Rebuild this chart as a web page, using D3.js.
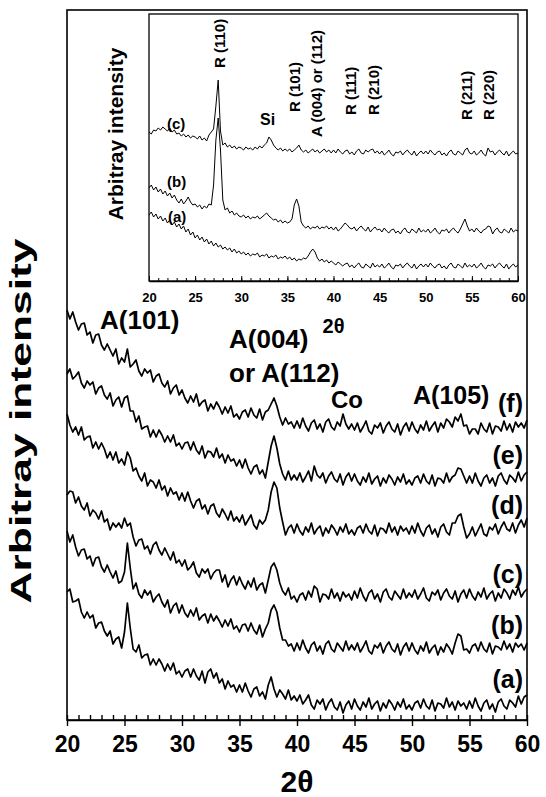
<!DOCTYPE html>
<html>
<head>
<meta charset="utf-8">
<script src="https://cdn.jsdelivr.net/npm/d3@7"></script>
<style>
body { margin: 0; background: #fff; }
text { font-family: "Liberation Sans", Arial, sans-serif; font-weight: bold; fill: #000; }
</style>
</head>
<body>
<div class="xrd"></div>
<script>
// 2theta grid, 0.25 deg steps from 20 to 60
const twoTheta = d3.range(0, 161).map(i => 20 + i * 0.25);
const majorTicks = [20, 25, 30, 35, 40, 45, 50, 55, 60];
const minorTicks = d3.range(20, 61, 1);

// main plot, stacked patterns (offset already included), arbitrary units
const mainA = [128,131,118,119,121,108,102,108,102,105,92,97,98,89,84,89,76,81,83,72,
  88,117,92,71,68,75,62,65,66,55,61,55,61,56,49,56,50,57,46,49,
  43,49,51,43,51,44,40,49,37,48,51,42,47,37,41,31,39,33,35,28,
  35,28,37,29,23,31,33,24,28,21,35,43,31,23,30,26,21,30,20,24,
  19,25,16,20,25,15,11,20,16,21,10,17,21,13,10,18,7,15,19,11,
  21,14,10,18,13,22,11,16,19,9,17,12,20,16,10,18,13,21,11,15,
  10,17,19,12,21,14,11,20,9,17,16,12,22,13,18,10,19,14,17,11,
  19,12,22,14,9,17,20,11,16,8,18,21,14,11,20,17,13,24,16,23,25];
const mainB = [189,178,185,173,164,170,171,161,164,154,162,163,153,148,155,148,142,149,137,139,
  148,177,152,131,137,126,122,130,125,129,118,123,126,118,113,120,107,114,117,107,
  115,107,103,110,104,112,100,104,106,97,106,99,104,99,93,100,94,101,91,94,
  88,95,96,89,97,90,86,95,83,91,97,110,115,108,92,80,80,74,76,69,
  77,70,80,72,67,75,78,69,74,66,76,79,71,68,77,73,69,79,70,75,
  70,77,68,73,79,69,66,75,72,77,67,74,78,71,68,76,65,73,77,69,
  77,70,66,74,69,78,67,72,75,65,73,68,76,72,66,77,86,84,70,71,
  67,74,76,69,78,71,68,77,66,74,73,70,79,71,76,68,77,73,76,70,77];
const mainC = [225,229,228,217,223,214,210,217,204,210,207,201,209,198,201,190,197,193,197,192,
  202,194,197,183,174,180,181,171,174,166,175,178,170,165,172,166,160,168,157,160,
  154,160,150,153,158,147,143,151,147,151,141,147,150,150,138,145,133,140,144,135,
  143,136,131,139,133,142,130,135,137,127,140,153,157,150,137,129,125,132,121,124,
  118,125,127,120,129,123,134,131,118,126,125,121,131,122,127,119,128,123,126,120,
  129,122,132,124,119,127,130,121,126,118,128,131,123,120,129,125,121,131,122,127,
  123,130,121,126,132,122,119,128,125,130,120,127,131,124,121,129,118,126,130,122,
  131,124,120,128,123,132,121,126,129,119,127,122,131,127,121,130,125,133,123,128,131];
const mainD = [306,295,288,293,285,293,280,283,284,272,278,271,277,271,262,268,260,268,257,261,
  255,268,262,249,252,244,239,247,234,240,238,232,240,230,234,224,232,226,228,220,
  227,219,228,219,212,219,221,211,215,206,214,216,207,203,211,206,200,209,199,203,
  198,205,195,200,205,195,191,200,196,200,210,228,238,232,212,198,185,192,195,187,
  196,189,185,193,188,197,186,191,194,184,192,187,195,191,185,193,188,196,186,190,
  185,192,194,187,196,189,186,195,184,192,191,187,197,188,193,185,194,189,192,186,
  194,187,197,189,184,192,195,186,191,183,193,196,188,185,197,197,204,206,193,182,
  186,193,184,190,196,186,184,193,190,196,186,193,198,191,189,197,187,195,200,193,202];
const mainE = [346,351,341,344,348,337,332,339,335,338,326,332,334,325,321,327,314,320,323,313,
  322,324,309,309,298,304,291,293,294,283,290,283,290,285,278,284,278,285,274,277,
  271,277,278,270,278,270,266,274,262,269,268,263,272,262,266,257,265,259,261,254,
  260,252,261,252,246,253,255,246,250,242,258,274,284,272,256,246,240,249,240,245,
  240,247,238,243,249,239,254,245,242,247,237,244,248,241,238,246,235,243,247,239,
  246,239,235,243,238,247,236,241,244,234,242,237,245,241,235,243,238,246,236,240,
  235,242,244,237,246,239,236,245,234,242,241,237,247,238,243,245,252,251,244,237,
  244,237,247,239,234,242,245,237,242,234,244,247,240,236,245,242,238,248,239,245,248];
const mainF = [410,401,408,398,390,396,397,385,388,377,385,386,375,370,376,370,364,371,356,362,
  358,371,353,356,360,349,344,351,347,350,338,344,346,337,333,339,326,332,335,325,
  330,322,317,324,318,326,314,318,320,309,316,311,318,313,306,313,307,314,303,306,
  301,308,310,303,312,305,302,311,300,308,310,316,322,314,303,295,302,296,298,292,
  299,292,302,294,289,297,300,291,296,288,298,301,293,290,298,294,306,296,291,296,
  290,297,288,293,299,289,286,295,292,297,287,294,298,291,288,296,285,293,297,289,
  298,291,287,295,290,299,289,294,298,288,297,292,301,298,293,303,299,306,294,295,
  286,291,291,286,297,291,288,297,286,294,293,289,299,290,296,288,298,293,297,292,300];

// inset patterns
const insetA = [66,69,64,67,62,65,60,63,58,61,56,59,54,57,52,55,49,52,46,49,
  43,46,41,44,39,42,37,40,35,38,34,36,32,34,31,33,29,32,28,30,
  27,29,26,28,25,27,26,28,24,26,25,27,23,25,24,26,22,24,23,25,
  22,24,21,23,20,22,21,23,22,25,29,32,29,23,20,22,19,21,18,20,
  18,16,19,17,15,17,18,14,16,13,16,18,14,13,17,15,13,18,14,16,
  14,17,13,15,18,14,12,16,15,17,13,16,18,15,13,17,12,15,17,14,
  17,14,18,15,13,16,17,13,15,12,16,18,14,13,17,15,13,18,14,16,
  14,17,13,15,18,14,12,16,15,17,13,16,18,15,13,17,12,15,17,14,16];
const insetB = [93,96,91,94,89,92,87,90,85,88,83,86,81,78,82,77,80,84,79,76,
  77,74,76,72,75,73,77,76,96,141,163,131,81,71,73,68,70,66,68,65,
  64,66,63,65,62,64,63,65,62,64,66,68,65,63,61,62,59,61,58,60,
  58,59,62,76,82,75,59,55,53,55,52,54,53,55,52,54,53,55,52,54,
  51,54,50,52,55,58,56,53,52,54,50,53,55,52,50,54,49,52,54,51,
  52,49,53,50,48,51,52,48,50,47,51,53,49,48,52,50,48,53,49,51,
  49,52,48,50,53,49,47,51,50,52,48,51,53,50,48,52,57,62,55,50,
  52,49,53,50,48,51,52,55,54,47,51,53,49,48,52,50,48,53,49,51,50];
const insetC = [149,147,151,150,153,151,154,152,150,153,149,151,147,148,145,147,144,146,143,145,
  144,142,145,141,143,140,146,149,152,175,201,150,136,138,134,136,133,135,132,134,
  133,131,134,132,133,131,134,132,135,133,136,138,144,141,136,133,131,133,130,132,
  130,132,129,131,133,136,131,129,131,128,130,132,129,131,128,130,132,129,131,128,
  131,128,132,129,127,130,131,127,129,126,130,132,128,127,131,129,131,132,128,130,
  127,130,126,128,131,127,125,129,128,130,126,129,131,128,126,130,125,128,130,127,
  130,127,131,128,126,129,130,126,128,125,129,131,127,126,130,128,126,131,133,128,
  127,130,126,128,131,127,125,133,129,130,126,129,131,128,126,130,125,128,130,127,128];

const mainSeries = [mainA, mainB, mainC, mainD, mainE, mainF];
const mainNames = ["(a)", "(b)", "(c)", "(d)", "(e)", "(f)"];
const insetSeries = [insetA, insetB, insetC];
const insetNames = ["(a)", "(b)", "(c)"];
const insetPeaks = ["R (110)", "R (101)", "A (004) or (112)", "R (111)", "R (210)", "R (211)", "R (220)"];

const width = 546, height = 797;

const svg = d3.select('.xrd')
    .append('svg')
    .attr('width', width)
    .attr('height', height)
    .attr('viewBox', [0, 0, width, height]);

// main scales
const x = d3.scaleLinear().domain([20, 60]).range([67, 527]);
const y = d3.scaleLinear().domain([0, 710]).range([720, 10]);

// inset scales
const xi = d3.scaleLinear().domain([20, 60]).range([149, 518]);
const yi = d3.scaleLinear().domain([0, 267]).range([281, 14]);

// frame
svg.append('rect')
    .attr('x', x(20)).attr('y', y(710))
    .attr('width', x(60) - x(20)).attr('height', y(0) - y(710))
    .attr('fill', 'none').attr('stroke', '#000').attr('stroke-width', 1.6);

const line = d3.line()
    .x((d, i) => x(twoTheta[i]))
    .y(d => y(d));

svg.append('g')
    .selectAll('path')
    .data(mainSeries)
    .join('path')
    .attr('d', line)
    .attr('fill', 'none')
    .attr('stroke', '#000')
    .attr('stroke-width', 1.7)
    .attr('stroke-linejoin', 'round');

// main x axis: minor ticks point up, majors go down with labels
svg.append('g')
    .attr('transform', `translate(0,${y(0)})`)
    .call(d3.axisBottom(x).tickValues(minorTicks).tickSize(-5).tickFormat(''))
    .call(g => g.select('.domain').remove())
    .selectAll('line').attr('stroke-width', 1.4);

svg.append('g')
    .attr('transform', `translate(0,${y(0)})`)
    .call(d3.axisBottom(x).tickValues(majorTicks).tickSize(6).tickSizeOuter(0))
    .call(g => g.select('.domain').attr('stroke-width', 1.6))
    .call(g => g.selectAll('line').attr('stroke-width', 1.4))
    .call(g => g.selectAll('text')
        .attr('y', 32).attr('dy', null)
        .attr('font-size', 23)
        .attr('font-family', '"Liberation Sans", Arial, sans-serif')
        .attr('font-weight', 'bold'));

svg.append('text')
    .attr('x', (x(20) + x(60)) / 2).attr('y', 792)
    .attr('text-anchor', 'middle').attr('font-size', 30)
    .text('2θ');

svg.append('text')
    .attr('transform', 'translate(31,421) rotate(-90)')
    .attr('text-anchor', 'middle').attr('font-size', 29)
    .attr('textLength', 365).attr('lengthAdjust', 'spacingAndGlyphs')
    .text('Arbitray intensity');

// curve labels
const curveLabelY = [688, 634, 583, 514, 464, 412];
svg.append('g')
    .selectAll('text')
    .data(mainNames)
    .join('text')
    .attr('x', 523)
    .attr('y', (d, i) => curveLabelY[i])
    .attr('text-anchor', 'end')
    .attr('font-size', 25)
    .text(d => d);

// peak annotations
svg.append('text').attr('x', 100).attr('y', 329).attr('font-size', 26).text('A(101)');
svg.append('text').attr('x', 229).attr('y', 348).attr('font-size', 26).text('A(004)');
svg.append('text').attr('x', 229).attr('y', 382).attr('font-size', 26).text('or A(112)');
svg.append('text').attr('x', 331).attr('y', 408).attr('font-size', 24).text('Co');
svg.append('text').attr('x', 413).attr('y', 404).attr('font-size', 25).text('A(105)');

// ---- inset ----
const inset = svg.append('g');

inset.append('rect')
    .attr('x', xi(20)).attr('y', yi(267))
    .attr('width', xi(60) - xi(20)).attr('height', yi(0) - yi(267))
    .attr('fill', '#fff').attr('stroke', '#000').attr('stroke-width', 1.3);

const lineI = d3.line()
    .x((d, i) => xi(twoTheta[i]))
    .y(d => yi(d));

inset.append('g')
    .selectAll('path')
    .data(insetSeries)
    .join('path')
    .attr('d', lineI)
    .attr('fill', 'none')
    .attr('stroke', '#000')
    .attr('stroke-width', 1)
    .attr('stroke-linejoin', 'round');

inset.append('g')
    .attr('transform', `translate(0,${yi(0)})`)
    .call(d3.axisBottom(xi).tickValues(minorTicks).tickSize(-3).tickFormat(''))
    .call(g => g.select('.domain').remove());

inset.append('g')
    .attr('transform', `translate(0,${yi(0)})`)
    .call(d3.axisBottom(xi).tickValues(majorTicks).tickSize(-5).tickSizeOuter(0))
    .call(g => g.select('.domain').attr('stroke-width', 1.3))
    .call(g => g.selectAll('text')
        .attr('y', 21).attr('dy', null)
        .attr('font-size', 13)
        .attr('font-family', '"Liberation Sans", Arial, sans-serif')
        .attr('font-weight', 'bold'));

inset.append('text')
    .attr('x', (xi(20) + xi(60)) / 2).attr('y', 333)
    .attr('text-anchor', 'middle').attr('font-size', 20)
    .text('2θ');

inset.append('text')
    .attr('transform', 'translate(123,134) rotate(-90)')
    .attr('text-anchor', 'middle').attr('font-size', 21)
    .text('Arbitray intensity');

const insetLabelPos = [[167, 129], [167, 187], [168, 222]];
inset.append('g')
    .selectAll('text')
    .data(insetNames)
    .join('text')
    .attr('x', (d, i) => insetLabelPos[insetNames.length - 1 - i][0])
    .attr('y', (d, i) => insetLabelPos[insetNames.length - 1 - i][1])
    .attr('font-size', 15)
    .text(d => d);

// vertical peak labels: [x baseline, bottom y]
const peakPos = [[225, 68], [300, 112], [322, 137], [356, 115], [379, 115], [472, 120], [494, 120]];
inset.append('g')
    .selectAll('text')
    .data(insetPeaks)
    .join('text')
    .attr('transform', (d, i) => `translate(${peakPos[i][0]},${peakPos[i][1]}) rotate(-90)`)
    .attr('font-size', 15)
    .text(d => d);

inset.append('text').attr('x', 260).attr('y', 125).attr('font-size', 16).text('Si');
</script>
</body>
</html>
